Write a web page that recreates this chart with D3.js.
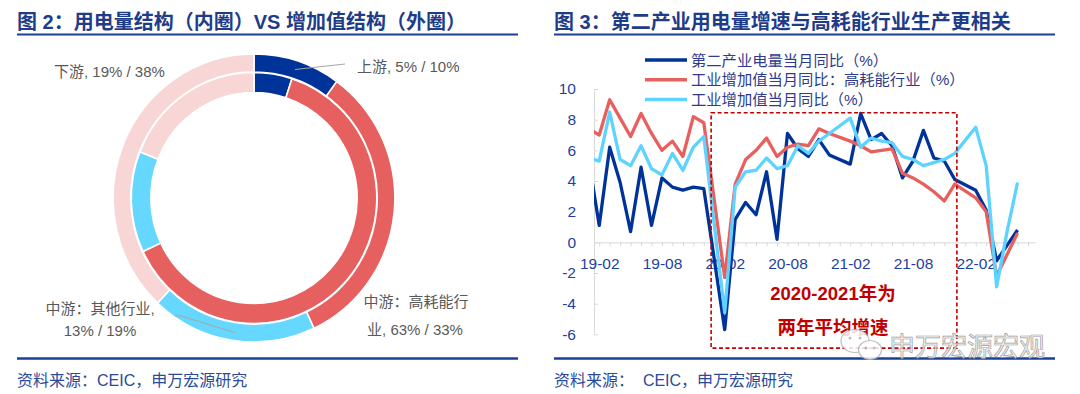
<!DOCTYPE html>
<html>
<head>
<meta charset="utf-8">
<script src="https://cdn.jsdelivr.net/npm/d3@7"></script>
<style>
body { margin: 0; background: #fff; }
svg { display: block; }
text { font-family: "Liberation Sans", "Noto Sans CJK SC", sans-serif; }
</style>
</head>
<body>
<script>
// left: structure shares (inner ring = electricity, outer ring = value added)
var segNames = ["上游", "中游：高耗能行业", "中游：其他行业", "下游"];
var segColors = ["#003399", "#E5605F", "#66D8FF", "#F8D6D6"];
var innerShare = [5, 63, 13, 19];
var outerShare = [10, 33, 19, 38];

// right: monthly yoy, 2020-2021 are two-year averages
var months = ["18-12",
  "19-02","19-03","19-04","19-05","19-06","19-07","19-08","19-09","19-10","19-11","19-12",
  "20-02","20-03","20-04","20-05","20-06","20-07","20-08","20-09","20-10","20-11","20-12",
  "21-02","21-03","21-04","21-05","21-06","21-07","21-08","21-09","21-10","21-11","21-12",
  "22-02","22-03","22-04","22-05","22-06"];
var elecSecond = [9.6,
  1.1, 6.2, 3.9, 0.7, 4.9, 1.1, 4.2, 3.6, 3.4, 3.6, 3.5,
  -5.7, 1.5, 2.6, 1.8, 4.6, 0.2, 7.1, 6.1, 5.6, 6.7, 5.7,
  5.1, 8.4, 6.7, 7.1, 6.3, 4.2, 5.3, 7.3, 5.5, 5.3, 4.1,
  3.4, 2.1, -1.2, -0.2, 0.8];
var vaHighEnergy = [7.8,
  7.0, 9.3, 8.1, 6.9, 8.4, 7.1, 6.0, 6.6, 5.6, 8.2, 7.8,
  -2.3, 3.8, 5.4, 6.0, 6.8, 5.6, 6.2, 6.4, 6.3, 7.4, 7.1,
  6.6, 6.3, 5.9, 6.0, 6.1, 4.5, 4.2, 3.8, 3.3, 2.7, 3.8,
  2.9, 2.0, -2.2, -0.8, 0.6];
var vaAll = [5.7,
  5.3, 8.5, 5.4, 5.0, 6.3, 4.8, 4.4, 5.8, 4.7, 6.2, 6.9,
  -4.6, 3.6, 4.6, 4.7, 5.5, 4.8, 5.0, 6.3, 5.8, 6.6, 7.1,
  8.1, 6.2, 6.8, 6.6, 6.5, 5.6, 5.4, 5.0, 5.2, 5.4, 5.8,
  7.5, 5.0, -2.9, 0.7, 3.9];
var yTicks = [-6, -4, -2, 0, 2, 4, 6, 8, 10];
var xLabels = ["19-02", "19-08", "20-02", "20-08", "21-02", "21-08", "22-02"];
var legendNames = ["第二产业电量当月同比（%）", "工业增加值当月同比：高耗能行业（%）", "工业增加值当月同比（%）"];
var lineColors = ["#003399", "#E8605D", "#5FD3FF"];

var navy = "#1F3C88";

var svg = d3.select("body").append("svg")
    .attr("width", 1080)
    .attr("height", 394);

// month string -> index, 19-01 = 0
function mIdx(s) {
  var p = s.split("-");
  return (+p[0] - 19) * 12 + (+p[1] - 1);
}

// ---------- titles, rules, sources
function panelFrame(x0, x1, title, source) {
  svg.append("text").attr("x", x0).attr("y", 29)
    .attr("font-family", "Noto Sans CJK SC").attr("font-weight", "bold")
    .attr("font-size", 20).attr("fill", navy).text(title);
  svg.append("line").attr("x1", x0).attr("x2", x1).attr("y1", 34.5).attr("y2", 34.5)
    .attr("stroke", "#1C3F9A").attr("stroke-width", 2);
  svg.append("line").attr("x1", x0).attr("x2", x1).attr("y1", 358.5).attr("y2", 358.5)
    .attr("stroke", "#1C3F9A").attr("stroke-width", 2.5);
  svg.append("text").attr("x", x0).attr("y", 386)
    .attr("font-family", "Noto Sans CJK SC").attr("font-size", 16)
    .attr("fill", "#2A4A9A").style("white-space", "pre").text(source);
}
panelFrame(17, 518, "图 2：用电量结构（内圈）VS 增加值结构（外圈）", "资料来源：CEIC，申万宏源研究");
panelFrame(554, 1055, "图 3：第二产业用电量增速与高耗能行业生产更相关", "资料来源：  CEIC，申万宏源研究");

// ---------- donut
var pie = d3.pie().sort(null).value(function(d) { return d; });
var donut = svg.append("g").attr("transform", "translate(254,198) scale(0.978,1)");

function ring(values, r0, r1) {
  var arc = d3.arc().innerRadius(r0).outerRadius(r1);
  donut.append("g").selectAll("path").data(pie(values)).enter().append("path")
    .attr("d", arc)
    .attr("fill", function(d, i) { return segColors[i]; })
    .attr("stroke", "#fff").attr("stroke-width", 1.6);
}
ring(innerShare, 105.5, 125.5);
ring(outerShare, 126, 144);

var lab = svg.append("g").attr("font-size", 15).attr("fill", "#595959");
lab.append("path").attr("d", "M345,64L295,69.5").attr("stroke", "#A6A6A6").attr("fill", "none");
lab.append("path").attr("d", "M175,316L181,316L236,333").attr("stroke", "#A6A6A6").attr("fill", "none");
lab.append("text").attr("x", 357).attr("y", 72)
  .text(segNames[0] + ", " + innerShare[0] + "% / " + outerShare[0] + "%");
lab.append("text").attr("x", 54).attr("y", 77)
  .text(segNames[3] + ", " + innerShare[3] + "% / " + outerShare[3] + "%");
lab.append("text").attr("x", 100).attr("y", 313.5).attr("text-anchor", "middle")
  .text(segNames[2] + ",");
lab.append("text").attr("x", 100).attr("y", 335.5).attr("text-anchor", "middle")
  .text(innerShare[2] + "% / " + outerShare[2] + "%");
lab.append("text").attr("x", 416).attr("y", 307).attr("text-anchor", "middle")
  .text(segNames[1].slice(0, 7));
lab.append("text").attr("x", 415).attr("y", 335).attr("text-anchor", "middle")
  .text(segNames[1].slice(7) + ", " + innerShare[1] + "% / " + outerShare[1] + "%");

// ---------- line chart
var x = d3.scaleLinear().domain([0.5, 42.67]).range([594, 1035]);
var y = d3.scaleLinear().domain([-6, 10]).range([334.3, 89]);

var yAxis = svg.append("g").attr("transform", "translate(594,0)")
  .call(d3.axisLeft(y).tickValues(yTicks).tickSizeInner(-4).tickSizeOuter(0).tickPadding(18)
    .tickFormat(function(d) { return String(d); }));
yAxis.select(".domain").attr("stroke", "#D9D9D9");
yAxis.selectAll(".tick line").attr("stroke", "#D9D9D9");
yAxis.selectAll("text").attr("font-size", 15.5).attr("fill", "#1F3F9F")
  .attr("font-family", "Liberation Sans");

var xAxis = svg.append("g").attr("transform", "translate(0," + y(0) + ")")
  .call(d3.axisBottom(x).tickValues(d3.range(1, 43)).tickSizeInner(4).tickSizeOuter(0)
    .tickFormat(""));
xAxis.select(".domain").attr("stroke", "#D9D9D9");
xAxis.selectAll(".tick line").attr("stroke", "#D9D9D9");

var xLab = svg.append("g").attr("transform", "translate(0," + y(0) + ")")
  .call(d3.axisBottom(x).tickValues(xLabels.map(mIdx)).tickSize(0).tickPadding(16)
    .tickFormat(function(d, i) { return xLabels[i]; }));
xLab.select(".domain").remove();
xLab.selectAll("text").attr("font-size", 15.5).attr("fill", "#1F3F9F")
  .attr("font-family", "Liberation Sans");

svg.append("clipPath").attr("id", "plotClip").append("rect")
  .attr("x", 594).attr("y", 0).attr("width", 441).attr("height", 394);

var line = d3.line()
  .x(function(d) { return x(d[0]); })
  .y(function(d) { return y(d[1]); });

[elecSecond, vaHighEnergy, vaAll].forEach(function(vals, k) {
  var pts = months.map(function(m, i) { return [mIdx(m), vals[i]]; });
  svg.append("path").datum(pts)
    .attr("clip-path", "url(#plotClip)")
    .attr("d", line)
    .attr("fill", "none")
    .attr("stroke", lineColors[k])
    .attr("stroke-width", 3.3)
    .attr("stroke-linejoin", "round");
});

// legend
var leg = svg.append("g");
legendNames.forEach(function(name, k) {
  var ly = 60 + k * 19.7;
  leg.append("line").attr("x1", 645).attr("x2", 687).attr("y1", ly).attr("y2", ly)
    .attr("stroke", lineColors[k]).attr("stroke-width", 3.5);
  leg.append("text").attr("x", 691).attr("y", ly + 5.5)
    .attr("font-family", "Noto Sans CJK SC").attr("font-size", 15.3)
    .attr("fill", "#2E3B8E").text(name);
});

// dashed box for 2020-2021
var bx0 = x(11.7), bx1 = x(35.2), by0 = y(8.45), by1 = y(-6.9);
svg.append("rect").attr("x", bx0).attr("y", by0)
  .attr("width", bx1 - bx0).attr("height", by1 - by0)
  .attr("fill", "none").attr("stroke", "#C00000").attr("stroke-width", 1.6)
  .attr("stroke-dasharray", "4,2.5");
svg.append("text").attr("x", x(23.35)).attr("y", 300).attr("text-anchor", "middle")
  .attr("font-family", "Noto Sans CJK SC").attr("font-weight", "bold")
  .attr("font-size", 18.5).attr("fill", "#C00000").text("2020-2021年为");
svg.append("text").attr("x", x(23.35)).attr("y", 334).attr("text-anchor", "middle")
  .attr("font-family", "Noto Sans CJK SC").attr("font-weight", "bold")
  .attr("font-size", 18.5).attr("fill", "#C00000").text("两年平均增速");

// watermark
var wm = svg.append("g").attr("opacity", 0.85);
wm.append("ellipse").attr("cx", 855).attr("cy", 341).attr("rx", 14).attr("ry", 11.5)
  .attr("fill", "#fff").attr("stroke", "#b5b5b5").attr("stroke-width", 1.2);
wm.append("ellipse").attr("cx", 870).attr("cy", 350).attr("rx", 11.5).attr("ry", 9.5)
  .attr("fill", "#fff").attr("stroke", "#b5b5b5").attr("stroke-width", 1.2);
[[850, 338], [860, 338], [866, 348], [874, 348]].forEach(function(p) {
  wm.append("circle").attr("cx", p[0]).attr("cy", p[1]).attr("r", 1.5).attr("fill", "#b5b5b5");
});
wm.append("text").attr("x", 889).attr("y", 356)
  .attr("font-family", "Noto Sans CJK SC").attr("font-size", 26)
  .attr("fill", "#f2f2f2").attr("stroke", "#8f8f8f").attr("stroke-width", 0.7)
  .text("申万宏源宏观");
</script>
</body>
</html>
